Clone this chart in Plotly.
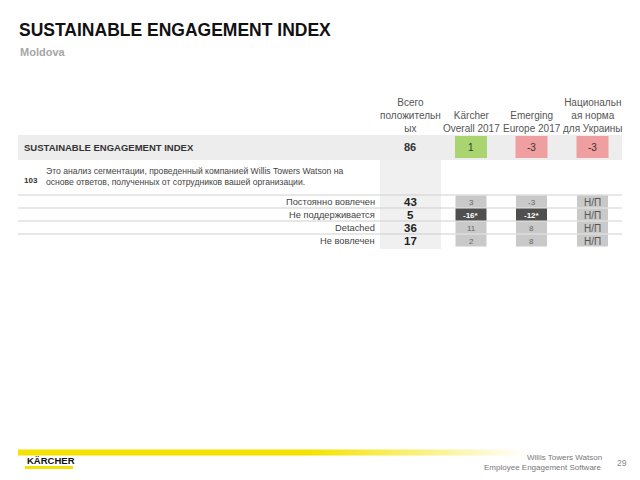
import plotly.graph_objects as go

# ---------------- data ----------------
title = "SUSTAINABLE ENGAGEMENT INDEX"
subtitle = "Moldova"
col_headers = ["Всего<br>положительн<br>ых", "Kärcher<br>Overall 2017",
               "Emerging<br>Europe 2017", "Национальн<br>ая норма<br>для Украины"]
sei_label = "SUSTAINABLE ENGAGEMENT INDEX"
sei_total = 86
sei_diffs = [1, -3, -3]
item_number = "103"
item_text = ("Это анализ сегментации, проведенный компанией Willis Towers Watson на<br>"
             "основе ответов, полученных от сотрудников вашей организации.")
categories = ["Постоянно вовлечен", "Не поддерживается", "Detached", "Не вовлечен"]
total_positive = [43, 5, 36, 17]
karcher_diff = [3, -16, 11, 2]
karcher_sig = [False, True, False, False]
emerging_diff = [-3, -12, 8, 8]
emerging_sig = [False, True, False, False]
national_norm = ["Н/П", "Н/П", "Н/П", "Н/П"]
footer_lines = ["Willis Towers Watson", "Employee Engagement Software"]
page_number = "29"
logo_text = "KÄRCHER"

# ---------------- layout constants ----------------
FONT = "Liberation Sans"
PAGE_MARGIN = 8                      # default body margin of the html page
W, H = 640 - 2 * PAGE_MARGIN, 480 - 2 * PAGE_MARGIN
TABLE_L, TABLE_R = 18, 622
col_x = [410, 471, 531.5, 592.5]      # centres: total, Kärcher, Emerging, national
cell_hw = 15.5
row_y0, row_step = 202, 13
line_color = "#cfcfcf"

fig = go.Figure()
shapes, annos = [], []

def rect(x0, x1, y0, y1, color):
    shapes.append(dict(type="rect", xref="x", yref="y", x0=x0, x1=x1, y0=y0, y1=y1,
                       fillcolor=color, line=dict(width=0), layer="below"))

def hline(y, x0=TABLE_L, x1=TABLE_R):
    shapes.append(dict(type="line", xref="x", yref="y", x0=x0, x1=x1, y0=y, y1=y,
                       line=dict(color=line_color, width=1), layer="below"))

def text(x, y, s, size, color="#333", bold=False, xanchor="center", yanchor="middle", align="center"):
    annos.append(dict(x=x, y=y, xref="x", yref="y", text=f"<b>{s}</b>" if bold else s,
                      showarrow=False, xanchor=xanchor, yanchor=yanchor, align=align,
                      font=dict(family=FONT, size=size, color=color)))

# title
text(17, 30, title, 17.5, "#111", True, "left")
text(18, 52, subtitle, 11, "#a6a6a6", True, "left")

# column headers
for cx, h in zip(col_x, col_headers):
    text(cx, 136, h, 10, "#555", yanchor="bottom")

# SEI row
rect(TABLE_L, TABLE_R, 135, 160, "#ededed")
text(22, 147, sei_label, 9.5, "#333", True, "left")
text(col_x[0], 147, sei_total, 11, "#333", True)
for cx, v in zip(col_x[1:], sei_diffs):
    rect(cx - cell_hw - 0.5, cx + cell_hw + 0.5, 136, 158, "#a9d46f" if v > 0 else "#ef9f9f")
    text(cx, 147, str(v), 10, "#333")

# total column background
rect(col_x[0] - 30, col_x[0] + 31, 160, 249, "#f0f0f0")

# item row
text(22, 180, item_number, 8, "#333", True, "left")
text(44, 176.5, item_text, 8.6, "#444", xanchor="left", align="left")

# separator lines
n = len(categories)
for i in range(n):
    hline(row_y0 - row_step / 2 - 0.5 + i * row_step)

# category rows
for i, cat in enumerate(categories):
    y = row_y0 + i * row_step
    top = y - row_step / 2
    bot = y + row_step / 2 - 1
    text(377, y, cat, 9.3, "#444", xanchor="right")
    text(col_x[0], y, total_positive[i], 11.5, "#222", True)
    for cx, vals, sig in [(col_x[1], karcher_diff, karcher_sig), (col_x[2], emerging_diff, emerging_sig)]:
        v = vals[i]
        rect(cx - cell_hw, cx + cell_hw, top, bot, "#4f4f4f" if sig[i] else "#c9c9c9")
        label = f"{v}*" if sig[i] else str(v)
        text(cx, y, label, 8, "#ffffff" if sig[i] else "#666", sig[i])
    rect(col_x[3] - cell_hw, col_x[3] + cell_hw, top, bot, "#c9c9c9")
    text(col_x[3], y, national_norm[i], 10, "#555")

# footer gradient line
fig.add_trace(go.Heatmap(z=[[0, 0, 1], [0, 0, 1]], x=[18, 200, 420, 630], y=[451, 454],
                         zsmooth="best", showscale=False, hoverinfo="skip",
                         colorscale=[[0, "#f4e300"], [1, "#ffffff"]]))
text(25, 460, logo_text, 9.5, "#111", True, "left")
rect(25, 73, 466, 469, "#f4e300")
text(604, 457, footer_lines[0], 8, "#777", xanchor="right")
text(604, 467, footer_lines[1], 8, "#777", xanchor="right")
text(622, 463, page_number, 8.5, "#888")

fig.update_layout(
    width=W, height=H, autosize=False,
    margin=dict(l=0, r=0, t=0, b=0),
    paper_bgcolor="white", plot_bgcolor="white",
    xaxis=dict(range=[PAGE_MARGIN, PAGE_MARGIN + W], visible=False, fixedrange=True),
    yaxis=dict(range=[PAGE_MARGIN + H, PAGE_MARGIN], visible=False, fixedrange=True),
    shapes=shapes, annotations=annos, showlegend=False,
)
fig.write_html("out.html")
